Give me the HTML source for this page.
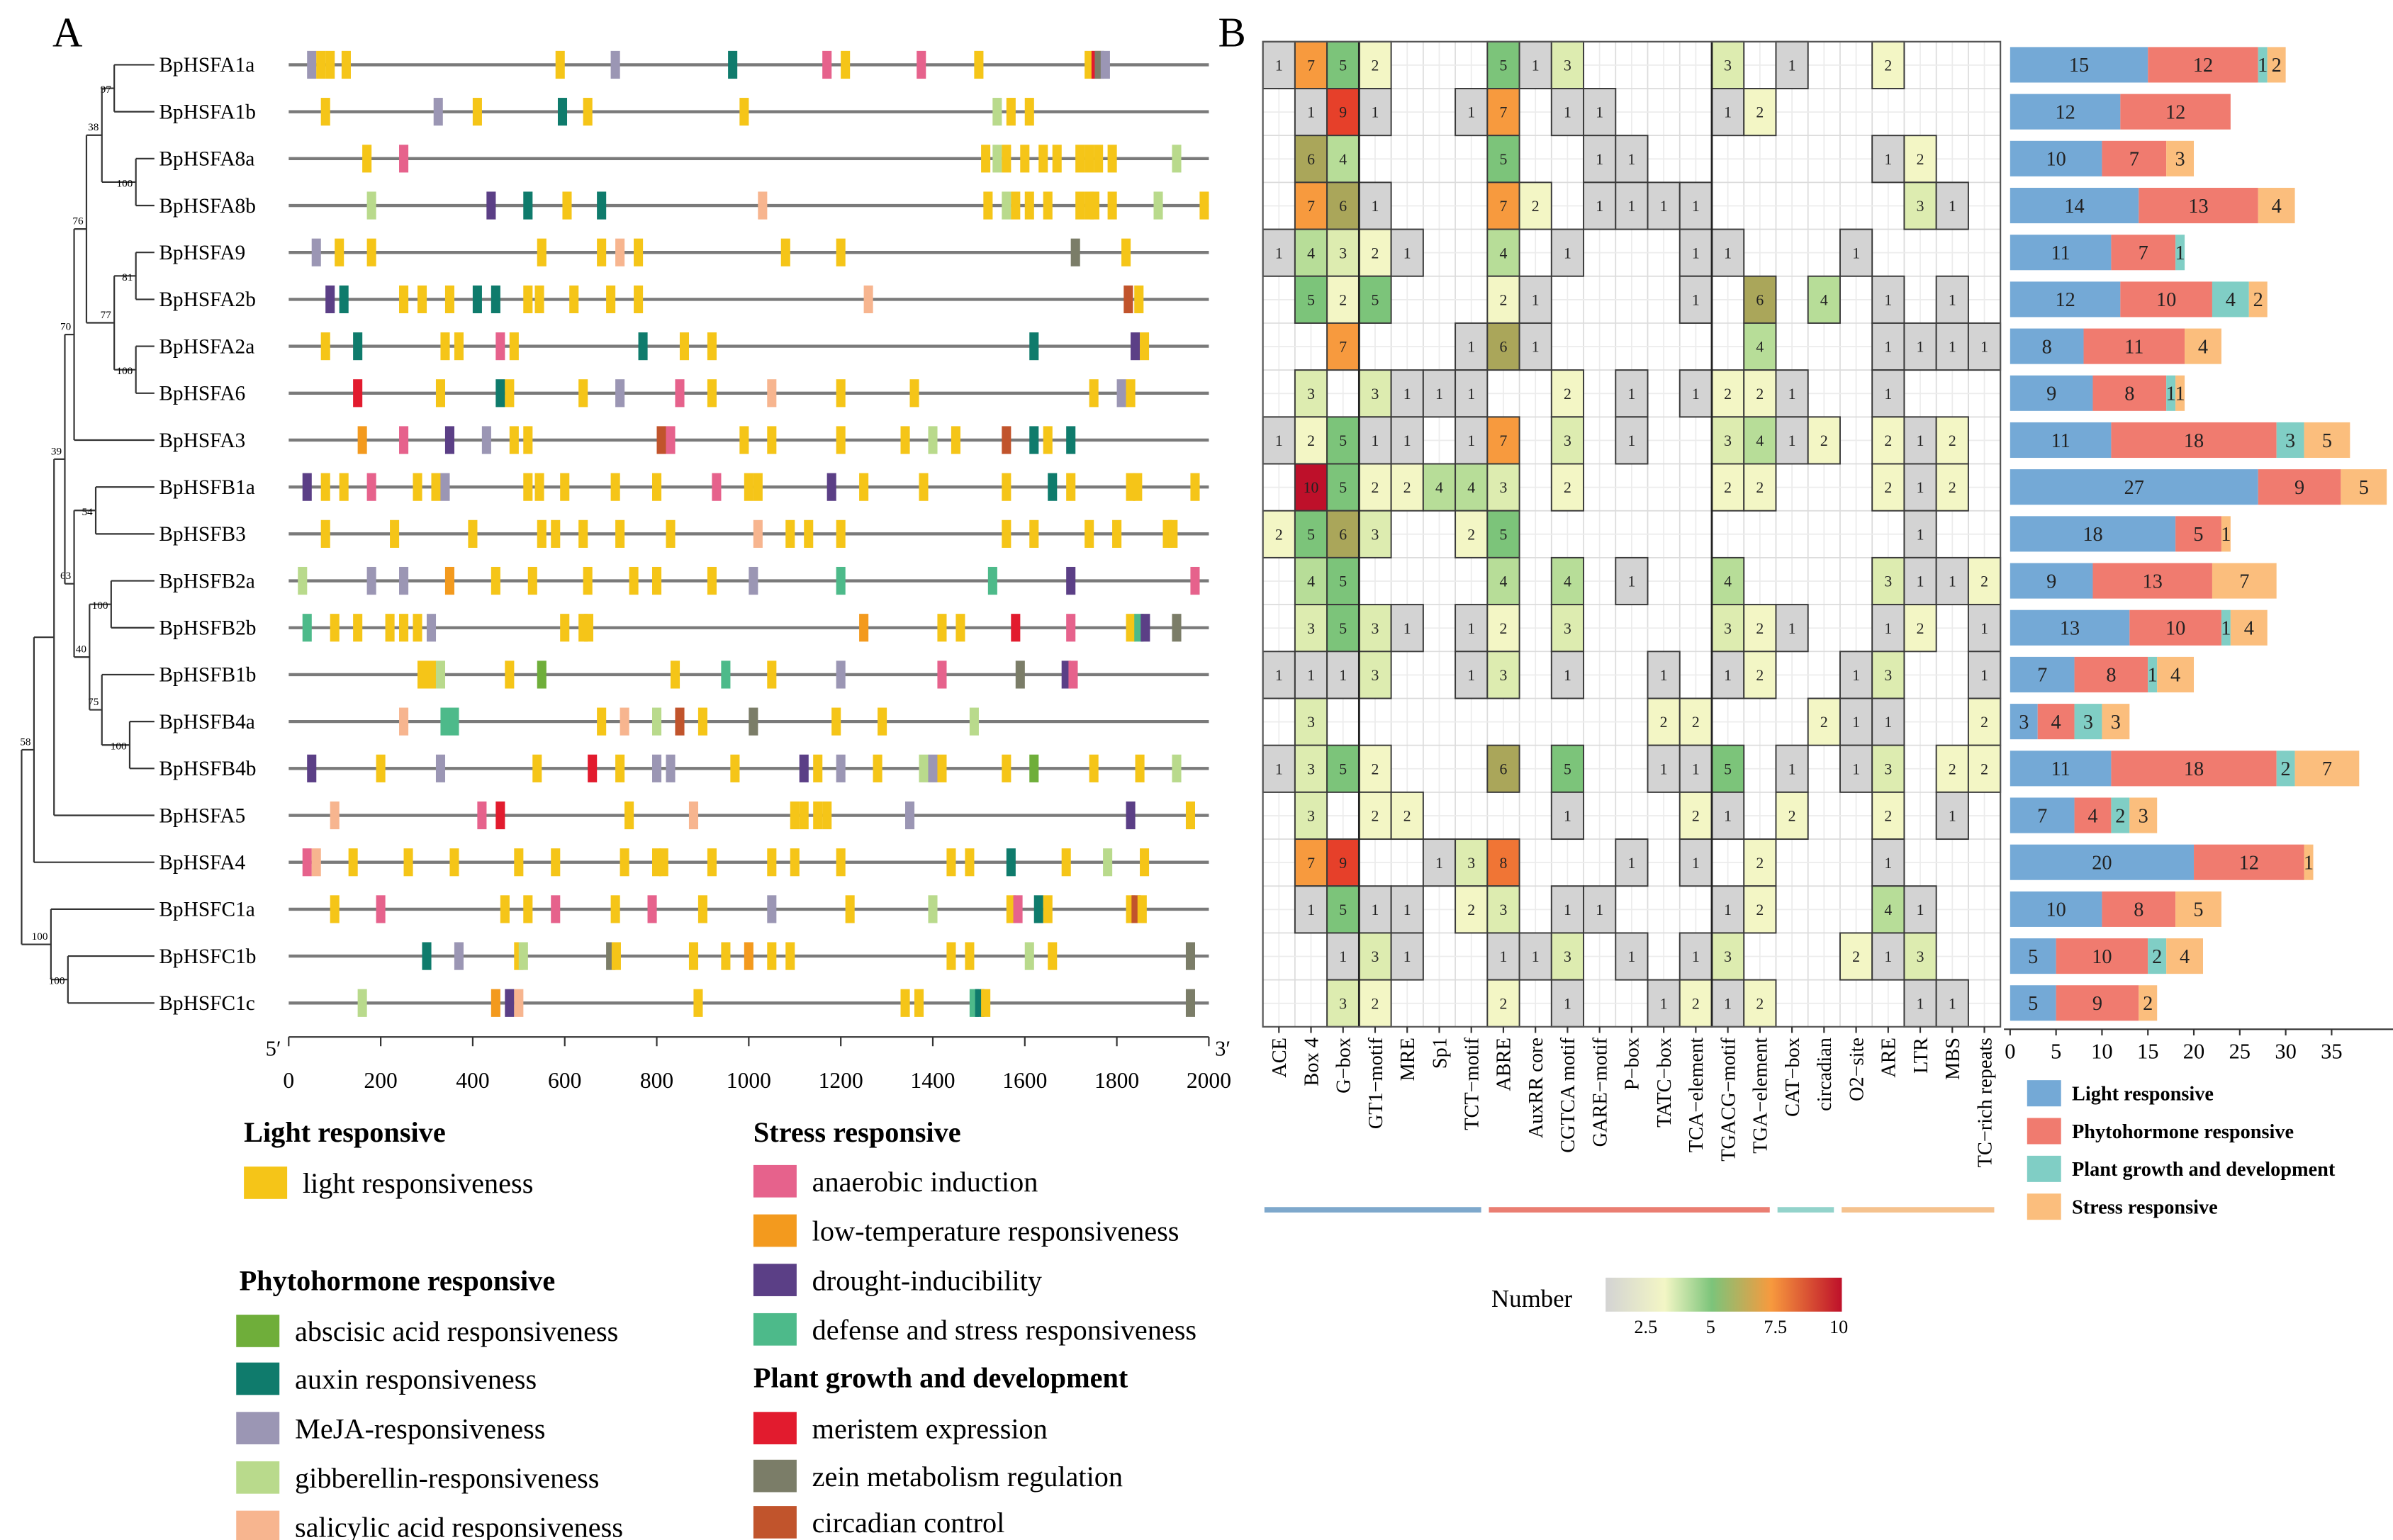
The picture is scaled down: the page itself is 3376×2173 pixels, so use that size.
<!DOCTYPE html>
<html><head><meta charset="utf-8"><style>
html,body{margin:0;padding:0;background:#fff}
svg{display:block;font-family:"Liberation Serif",serif}
</style></head><body>
<svg id="fig" xmlns="http://www.w3.org/2000/svg" width="3376" height="2173" viewBox="0 0 1550 998" preserveAspectRatio="none">
<g id="gA"></g>
<g id="gB"></g>
<g id="gC"></g>
<g id="gL"></g>
</svg>
<script>
const genes=["BpHSFA1a","BpHSFA1b","BpHSFA8a","BpHSFA8b","BpHSFA9","BpHSFA2b","BpHSFA2a","BpHSFA6","BpHSFA3","BpHSFB1a","BpHSFB3","BpHSFB2a","BpHSFB2b","BpHSFB1b","BpHSFB4a","BpHSFB4b","BpHSFA5","BpHSFA4","BpHSFC1a","BpHSFC1b","BpHSFC1c"];
const elements=["ACE","Box 4","G−box","GT1−motif","MRE","Sp1","TCT−motif","ABRE","AuxRR core","CGTCA motif","GARE−motif","P−box","TATC−box","TCA−element","TGACG−motif","TGA−element","CAT−box","circadian","O2−site","ARE","LTR","MBS","TC−rich repeats"];
const heat=[
[1,7,5,2,0,0,0,5,1,3,0,0,0,0,3,0,1,0,0,2,0,0,0],
[0,1,9,1,0,0,1,7,0,1,1,0,0,0,1,2,0,0,0,0,0,0,0],
[0,6,4,0,0,0,0,5,0,0,1,1,0,0,0,0,0,0,0,1,2,0,0],
[0,7,6,1,0,0,0,7,2,0,1,1,1,1,0,0,0,0,0,0,3,1,0],
[1,4,3,2,1,0,0,4,0,1,0,0,0,1,1,0,0,0,1,0,0,0,0],
[0,5,2,5,0,0,0,2,1,0,0,0,0,1,0,6,0,4,0,1,0,1,0],
[0,0,7,0,0,0,1,6,1,0,0,0,0,0,0,4,0,0,0,1,1,1,1],
[0,3,0,3,1,1,1,0,0,2,0,1,0,1,2,2,1,0,0,1,0,0,0],
[1,2,5,1,1,0,1,7,0,3,0,1,0,0,3,4,1,2,0,2,1,2,0],
[0,10,5,2,2,4,4,3,0,2,0,0,0,0,2,2,0,0,0,2,1,2,0],
[2,5,6,3,0,0,2,5,0,0,0,0,0,0,0,0,0,0,0,0,1,0,0],
[0,4,5,0,0,0,0,4,0,4,0,1,0,0,4,0,0,0,0,3,1,1,2],
[0,3,5,3,1,0,1,2,0,3,0,0,0,0,3,2,1,0,0,1,2,0,1],
[1,1,1,3,0,0,1,3,0,1,0,0,1,0,1,2,0,0,1,3,0,0,1],
[0,3,0,0,0,0,0,0,0,0,0,0,2,2,0,0,0,2,1,1,0,0,2],
[1,3,5,2,0,0,0,6,0,5,0,0,1,1,5,0,1,0,1,3,0,2,2],
[0,3,0,2,2,0,0,0,0,1,0,0,0,2,1,0,2,0,0,2,0,1,0],
[0,7,9,0,0,1,3,8,0,0,0,1,0,1,0,2,0,0,0,1,0,0,0],
[0,1,5,1,1,0,2,3,0,1,1,0,0,0,1,2,0,0,0,4,1,0,0],
[0,0,1,3,1,0,0,1,1,3,0,1,0,1,3,0,0,0,2,1,3,0,0],
[0,0,3,2,0,0,0,2,0,1,0,0,1,2,1,2,0,0,0,0,1,1,0]];
const barLight=[15,12,10,14,11,12,8,9,11,27,18,9,13,7,3,11,7,20,10,5,5];
const barPhyto=[12,12,7,13,7,10,11,8,18,9,5,13,10,8,4,18,4,12,8,10,9];
const barGrowth=[1,0,0,0,1,4,0,1,3,0,0,0,1,1,3,2,2,0,0,2,0];
const barStress=[2,0,3,4,0,2,4,1,5,5,1,7,4,4,3,7,3,1,5,4,2];
const barTicks=[0,5,10,15,20,25,30,35];
const bpTicks=[0,200,400,600,800,1000,1200,1400,1600,1800,2000];
const motifs=[
"50MJ 70L 90L 125L 590L 710MJ 965AUX 1170ANA 1210L 1375ANA 1500L 1740L 1755MER 1762ZEIN 1775MJ",
"80L 325MJ 410L 595AUX 650L 990L 1540GA 1570L 1610L",
"170L 250ANA 1515L 1540GA 1560L 1600L 1640L 1670L 1720L 1740L 1760L 1790L 1930GA",
"180GA 440DR 520AUX 605L 680AUX 1030SA 1520L 1560GA 1580L 1610L 1650L 1720L 1740L 1752L 1790L 1890GA 1990L",
"60MJ 110L 180L 550L 680L 720SA 760L 1080L 1200L 1710ZEIN 1820L",
"90DR 120AUX 250L 290L 350L 410AUX 450AUX 520L 545L 620L 700L 760L 1260SA 1825CIR 1848L",
"80L 150AUX 340L 370L 460ANA 490L 770AUX 860L 920L 1620AUX 1840DR 1860L",
"150MER 330L 460AUX 480L 640L 720MJ 850ANA 920L 1050SA 1200L 1360L 1750L 1810MJ 1830L",
"160LT 250ANA 350DR 430MJ 490L 520L 810CIR 830ANA 990L 1050L 1200L 1340L 1400GA 1450L 1560CIR 1620AUX 1650L 1700AUX",
"40DR 80L 120L 180ANA 280L 320L 340MJ 520L 545L 600L 710L 800L 930ANA 1000L 1020L 1180DR 1250L 1380L 1560L 1660AUX 1700L 1830L 1845L 1970L",
"80L 230L 400L 550L 580L 640L 720L 830L 1020SA 1090L 1130L 1200L 1560L 1620L 1740L 1800L 1910L 1922L",
"30GA 180MJ 250MJ 350LT 450L 530L 650L 750L 800L 920L 1010MJ 1200DEF 1530DEF 1700DR 1970ANA",
"40DEF 100L 150L 220L 250L 280L 310MJ 600L 640L 652L 1250LT 1420L 1460L 1580MER 1700ANA 1830L 1848DEF 1862DR 1930ZEIN",
"290L 310L 330GA 480L 550ABA 840L 950DEF 1050L 1200MJ 1420ANA 1590ZEIN 1690DR 1705ANA",
"250SA 340DEF 360DEF 680L 730SA 800GA 850CIR 900L 1010ZEIN 1190L 1290L 1490GA",
"50DR 200L 330MJ 540L 660MER 720L 800MJ 830MJ 970L 1120DR 1150L 1200MJ 1280L 1380GA 1400MJ 1420L 1560L 1620ABA 1750L 1850L 1930GA",
"100SA 420ANA 460MER 740L 880SA 1100L 1120L 1150L 1170L 1350MJ 1830DR 1960L",
"40ANA 60SA 140L 260L 360L 500L 580L 730L 800L 815L 920L 1050L 1100L 1200L 1440L 1480L 1570AUX 1690L 1780GA 1860L",
"100L 200ANA 470L 520L 580ANA 710L 790ANA 900L 1050MJ 1220L 1400GA 1570L 1585ANA 1630AUX 1650L 1830L 1842CIR 1855L",
"300AUX 370MJ 500L 510GA 700ZEIN 712L 880L 950L 1000LT 1050L 1090L 1440L 1480L 1610GA 1660L 1960ZEIN",
"160GA 450LT 480DR 500SA 890L 1340L 1370L 1490DEF 1502AUX 1515L 1960ZEIN"];
const motifColor={L:"#f5c518",ABA:"#6fae3a",AUX:"#0f7b6c",MJ:"#9b96b4",GA:"#b9da8c",SA:"#f7b58f",ANA:"#e6628c",LT:"#f39a1e",DR:"#5b3f86",DEF:"#4dba8a",MER:"#e21b2e",ZEIN:"#7b7d68",CIR:"#c1542c"};
const NS="http://www.w3.org/2000/svg";
function mk(parent,tag,attrs,txt){const e=document.createElementNS(NS,tag);for(const k in attrs)e.setAttribute(k,attrs[k]);if(txt!==undefined)e.textContent=txt;parent.appendChild(e);return e;}
const rowY=i=>42+i*30.4;
// ---------- Panel A ----------
const gA=document.getElementById('gA');
const t=mk(gA,'text',{x:34,y:30,'font-size':27},'A');


const bx=v=>187+v*(783-187)/2000;
genes.forEach((g,i)=>{
  const y=rowY(i);
  const n=mk(gA,'text',{x:103,y:y+4.5,'font-size':13.5},g);
  
  
  const ln=mk(gA,'line',{x1:bx(0),x2:bx(2000),y1:y,y2:y,stroke:'#7a7a7a','stroke-width':2});
  
  
  motifs[i].split(' ').forEach(s=>{
    const m=s.match(/^(\d+)([A-Z]+)$/);
    const r=mk(gA,'rect',{x:bx(+m[1])-3,y:y-9,width:6,height:18,fill:motifColor[m[2]]});
    
    
  });
});
// tree
const tree={x:14,c:[{x:22,b:'58',c:[{x:35,c:[{x:42,b:'39',c:[{x:48,b:'70',c:[{x:56,b:'76',c:[{x:66,b:'38',c:[{x:74,b:'97',c:[0,1]},{x:88,b:'100',c:[2,3]}]},{x:74,b:'77',c:[{x:88,b:'81',c:[4,5]},{x:88,b:'100',c:[6,7]}]}]},8]},{x:48,b:'63',c:[{x:62,b:'54',c:[9,10]},{x:58,b:'40',c:[{x:72,b:'100',c:[11,12]},{x:66,b:'75',c:[13,{x:84,b:'100',c:[14,15]}]}]}]}]},16]},17]},{x:33,b:'100',c:[18,{x:44,b:'100',c:[19,20]}]}]};
function drawNode(n,px){
  if(typeof n==='number'){const y=rowY(n);const l=mk(gA,'line',{x1:px,x2:100,y1:y,y2:y,stroke:'#333','stroke-width':1});return y;}
  const ys=n.c.map(c=>drawNode(c,n.x));
  const y0=Math.min(...ys),y1=Math.max(...ys),ym=(y0+y1)/2;
  const v=mk(gA,'line',{x1:n.x,x2:n.x,y1:y0,y2:y1,stroke:'#333','stroke-width':1});
  
  
  if(px!==undefined){const h=mk(gA,'line',{x1:px,x2:n.x,y1:ym,y2:ym,stroke:'#333','stroke-width':1});}
  if(n.b){const b=mk(gA,'text',{x:n.x-2,y:ym+(y1-y0>40?-3:3),'font-size':7,'text-anchor':'end'},n.b);}
  return ym;
}
drawNode(tree);
// bp axis
const ax=mk(gA,'line',{x1:bx(0),x2:bx(2000),y1:672,y2:672,stroke:'#333','stroke-width':1});


bpTicks.forEach(v=>{
  const tk=mk(gA,'line',{x1:bx(v),x2:bx(v),y1:672,y2:678,stroke:'#333'});
  
  
  const tl=mk(gA,'text',{x:bx(v),y:705,'font-size':14.5,'text-anchor':'middle'},v);
  
  
});
const p5=mk(gA,'text',{x:172,y:684,'font-size':14},"5′");
const p3=mk(gA,'text',{x:787,y:684,'font-size':14},"3′");
// ---------- Heatmap ----------
const gB=document.getElementById('gB');
const tb=mk(gB,'text',{x:789,y:30,'font-size':27},'B');


const HX=818,CW=20.77,HY=27,RH=30.4,NC=elements.length,NR=genes.length;
const cx=j=>HX+j*CW, ry=i=>HY+i*RH;
for(let j=0;j<=NC*2;j++){const l=mk(gB,'line',{x1:HX+j*CW/2,x2:HX+j*CW/2,y1:HY,y2:ry(NR),stroke:j%2?'#ececec':'#dcdcdc','stroke-width':0.8});}
for(let i=0;i<=NR*2;i++){const l=mk(gB,'line',{x1:HX,x2:cx(NC),y1:HY+i*RH/2,y2:HY+i*RH/2,stroke:i%2?'#ececec':'#dcdcdc','stroke-width':0.8});}
const stops=[[1,[211,211,211]],[2,[243,246,197]],[3,[221,236,176]],[4,[183,221,152]],[5,[124,196,122]],[6,[170,166,90]],[7,[247,154,62]],[8,[240,117,53]],[9,[230,64,42]],[10,[190,16,42]]];
function hcol(v){const s=stops[Math.min(v,10)-1][1];return `rgb(${s[0]},${s[1]},${s[2]})`;}
heat.forEach((row,i)=>row.forEach((v,j)=>{
  if(!v)return;
  const r=mk(gB,'rect',{x:cx(j),y:ry(i),width:CW,height:RH,fill:hcol(v),stroke:'#3a3a3a','stroke-width':0.9});
  
  
  const tx=mk(gB,'text',{x:cx(j)+CW/2,y:ry(i)+RH/2+3.5,'font-size':10,'text-anchor':'middle',fill:'#222'},v);
  
  
}));
[3,14].forEach(j=>{const l=mk(gB,'line',{x1:cx(j),x2:cx(j),y1:HY,y2:ry(NR),stroke:'#222','stroke-width':1.3});});
const fr=mk(gB,'rect',{x:HX,y:HY,width:NC*CW,height:NR*RH,fill:'none',stroke:'#555','stroke-width':1});


elements.forEach((e,j)=>{
  const x=cx(j)+CW/2;
  const tk=mk(gB,'line',{x1:x,x2:x,y1:ry(NR),y2:ry(NR)+4,stroke:'#333'});
  
  
  const tl=mk(gB,'text',{x:0,y:0,'font-size':13,'text-anchor':'end',transform:`translate(${x+4.5},${ry(NR)+7}) rotate(-90)`},e);
  
  
});
[[0,7,'#7ea8cc'],[7,16,'#ea7e72'],[16,18,'#93d3cb'],[18,23,'#f5c28e']].forEach(g=>{
  const l=mk(gB,'line',{x1:cx(g[0])+1,x2:cx(g[1])-4,y1:784,y2:784,stroke:g[2],'stroke-width':3.5});
  
  
});
// number legend
const defs=mk(gB,'defs',{});
const lg=mk(defs,'linearGradient',{id:'ng'});
[['0','#d3d3d3'],['0.25','#f3f6c5'],['0.45','#7cc47a'],['0.7','#f79a3e'],['1','#be102a']].forEach(s=>mk(lg,'stop',{offset:s[0],'stop-color':s[1]}));
const nt=mk(gB,'text',{x:966,y:847,'font-size':16},'Number');
const nb=mk(gB,'rect',{x:1040,y:828,width:153,height:22,fill:'url(#ng)'});
[['2.5',1066],['5',1108],['7.5',1150],['10',1191]].forEach(a=>{const tl=mk(gB,'text',{x:a[1],y:864,'font-size':12,'text-anchor':'middle'},a[0]);});
// ---------- Bars ----------
const gC=document.getElementById('gC');
const BX=1302,BS=5.95;const bxs=v=>BX+v*BS;
const series=[[barLight,'#74a9d6'],[barPhyto,'#f07b6f'],[barGrowth,'#80cec5'],[barStress,'#fbbe7d']];
genes.forEach((g,i)=>{
  let acc=0;const y=rowY(i);
  series.forEach(s=>{
    const v=s[0][i];if(!v)return;
    const r=mk(gC,'rect',{x:bxs(acc),y:y-11.5,width:v*BS,height:23,fill:s[1]});
    
    
    const tx=mk(gC,'text',{x:bxs(acc+v/2),y:y+4.5,'font-size':13,'text-anchor':'middle',fill:'#222'},v);
    
    
    acc+=v;
  });
});
const bax=mk(gC,'line',{x1:1298,x2:1550,y1:667,y2:667,stroke:'#333'});
barTicks.forEach(v=>{
  const tk=mk(gC,'line',{x1:bxs(v),x2:bxs(v),y1:667,y2:671,stroke:'#333'});
  const tl=mk(gC,'text',{x:bxs(v),y:686,'font-size':14,'text-anchor':'middle'},v);
});
[['Light responsive','#74a9d6'],['Phytohormone responsive','#f07b6f'],['Plant growth and development','#80cec5'],['Stress responsive','#fbbe7d']].forEach((a,k)=>{
  const y=700+k*24.5;
  const r=mk(gC,'rect',{x:1313,y:y,width:22,height:17,fill:a[1]});
  const tx=mk(gC,'text',{x:1342,y:y+13,'font-size':13,'font-weight':'bold'},a[0]);
});
// ---------- Motif legend ----------
const gL=document.getElementById('gL');
function head(x,y,s){const e=mk(gL,'text',{x:x,y:y,'font-size':18.5,'font-weight':'bold'},s);}
function item(x,y,c,s){const r=mk(gL,'rect',{x:x,y:y-16,width:28,height:21,fill:c});const e=mk(gL,'text',{x:x+38,y:y+1,'font-size':18.5},s);}
head(158,740,'Light responsive');
item(158,772,motifColor.L,'light responsiveness');
head(155,836,'Phytohormone responsive');
item(153,868,motifColor.ABA,'abscisic acid responsiveness');
item(153,899,motifColor.AUX,'auxin responsiveness');
item(153,931,motifColor.MJ,'MeJA-responsiveness');
item(153,963,motifColor.GA,'gibberellin-responsiveness');
item(153,995,motifColor.SA,'salicylic acid responsiveness');
head(488,740,'Stress responsive');
item(488,771,motifColor.ANA,'anaerobic induction');
item(488,803,motifColor.LT,'low-temperature responsiveness');
item(488,835,motifColor.DR,'drought-inducibility');
item(488,867,motifColor.DEF,'defense and stress responsiveness');
head(488,899,'Plant growth and development');
item(488,931,motifColor.MER,'meristem expression');
item(488,962,motifColor.ZEIN,'zein metabolism regulation');
item(488,992,motifColor.CIR,'circadian control');
</script>
</body></html>
